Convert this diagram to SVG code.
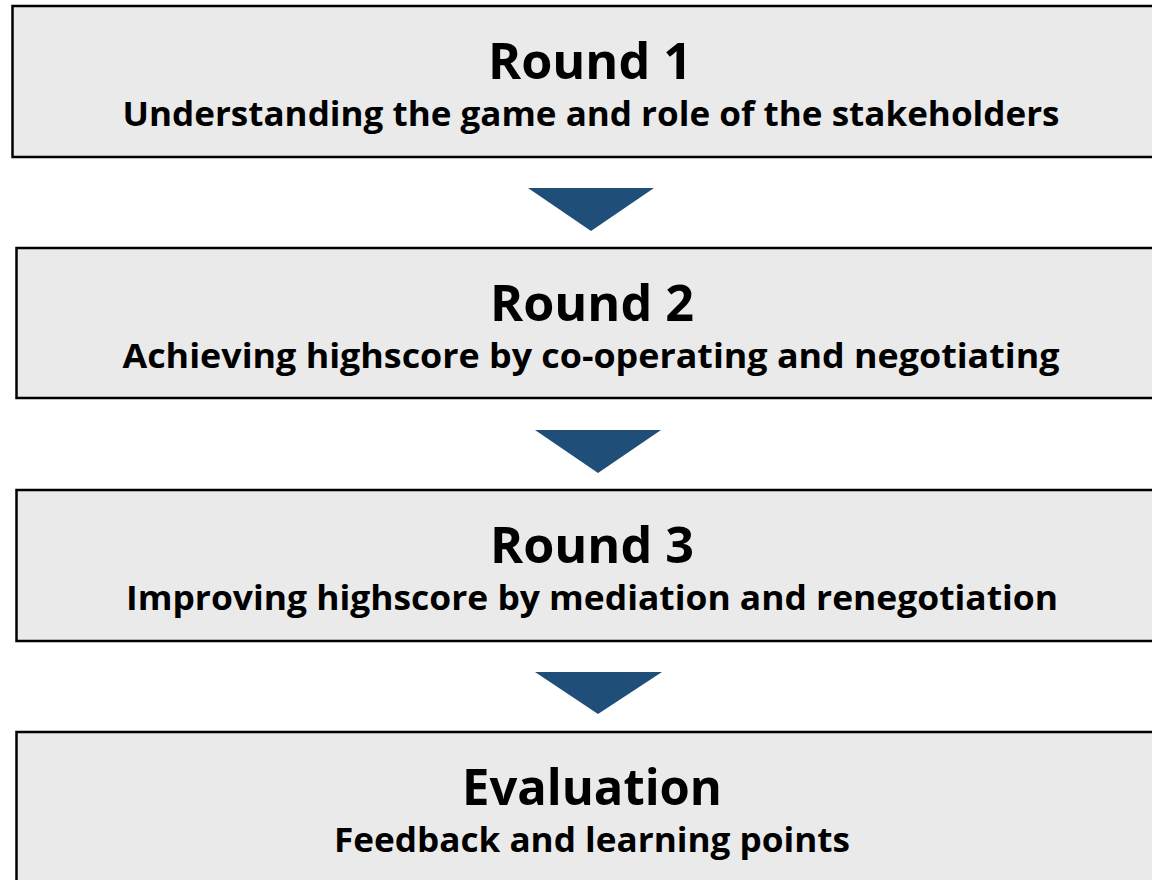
<svg xmlns="http://www.w3.org/2000/svg" width="1152" height="880" viewBox="0 0 1152 880">
<style>
.box{fill:#EAEAEA;stroke:#000;stroke-width:2.5}
.t{font-family:"Open Sans","Noto Sans","DejaVu Sans",sans-serif;font-weight:bold;fill:#000;text-anchor:middle}
.h{font-size:50px}
.s{font-size:34px}
.arr{fill:#1F4E79}
</style>
<rect x="0" y="0" width="1152" height="880" fill="#fff"/>
<g id="round1">
<rect class="box" x="12.5" y="6" width="1170" height="151"/>
<text class="t h" x="590" y="79" textLength="204" lengthAdjust="spacingAndGlyphs">Round 1</text>
<text class="t s" x="591" y="126" textLength="937" lengthAdjust="spacingAndGlyphs">Understanding the game and role of the stakeholders</text>
</g>
<g id="round2">
<rect class="box" x="16.5" y="248" width="1170" height="150"/>
<text class="t h" x="592" y="321" textLength="204" lengthAdjust="spacingAndGlyphs">Round 2</text>
<text class="t s" x="591" y="368" textLength="937" lengthAdjust="spacingAndGlyphs">Achieving highscore by co-operating and negotiating</text>
</g>
<g id="round3">
<rect class="box" x="16.5" y="490" width="1170" height="151"/>
<text class="t h" x="592" y="563" textLength="204" lengthAdjust="spacingAndGlyphs">Round 3</text>
<text class="t s" x="592" y="610" textLength="932" lengthAdjust="spacingAndGlyphs">Improving highscore by mediation and renegotiation</text>
</g>
<g id="evaluation">
<rect class="box" x="16.5" y="732" width="1170" height="170"/>
<text class="t h" x="592" y="805" textLength="260" lengthAdjust="spacingAndGlyphs">Evaluation</text>
<text class="t s" x="592" y="852" textLength="516" lengthAdjust="spacingAndGlyphs">Feedback and learning points</text>
</g>
<g id="connectors">
<polygon class="arr" points="528,188 654,188 591,231"/>
<polygon class="arr" points="535,430 661,430 598,473"/>
<polygon class="arr" points="535,672 662,672 598,714"/>
</g>
</svg>
